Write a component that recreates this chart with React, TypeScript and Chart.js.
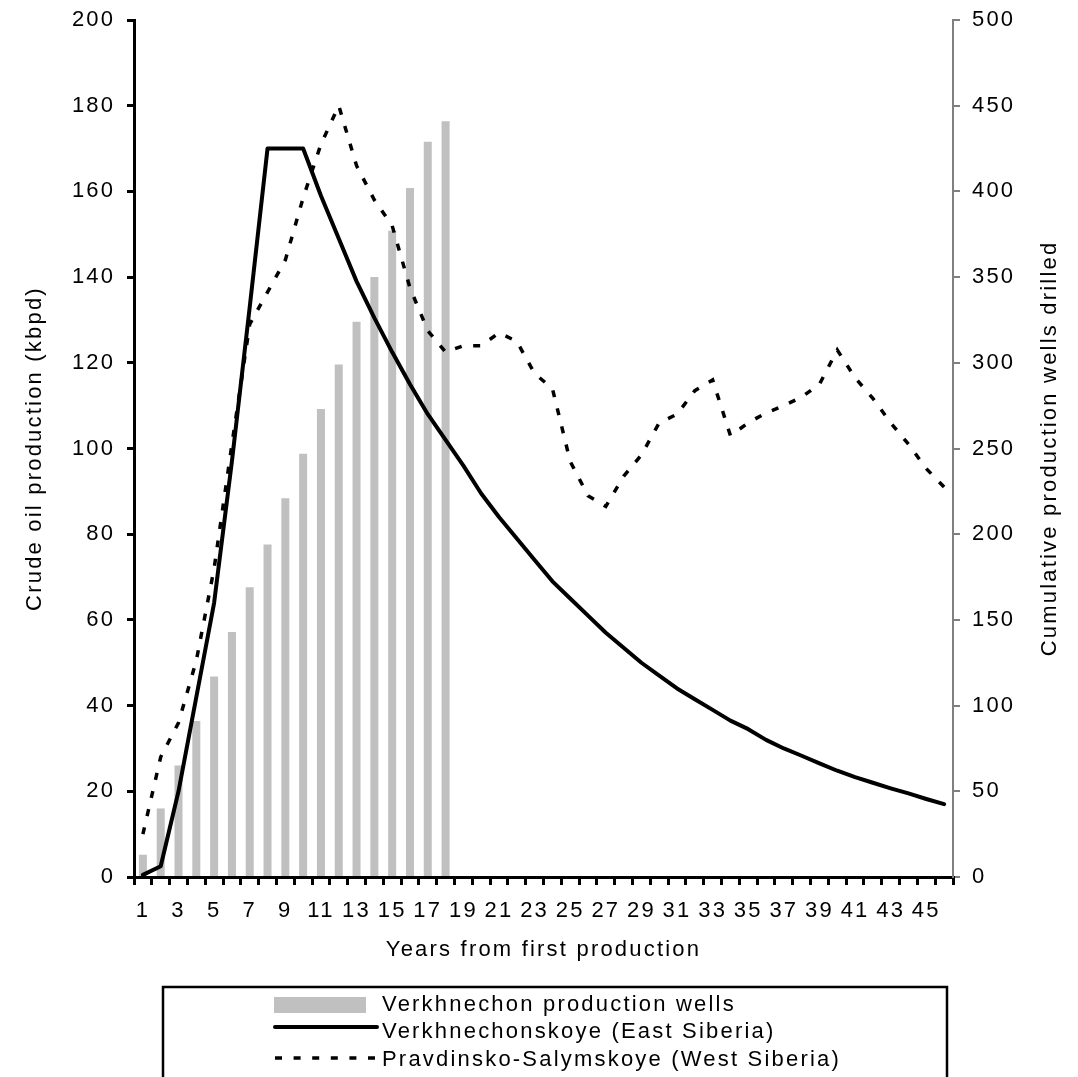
import React, { useEffect, useRef } from 'react';
import { Chart, registerables } from 'chart.js';

Chart.register(...registerables);

// ---- Data ----
const years = [
  '1', '2', '3', '4', '5', '6', '7', '8', '9', '10',
  '11', '12', '13', '14', '15', '16', '17', '18', '19', '20',
  '21', '22', '23', '24', '25', '26', '27', '28', '29', '30',
  '31', '32', '33', '34', '35', '36', '37', '38', '39', '40',
  '41', '42', '43', '44', '45', '46',
];

// Cumulative production wells drilled (right axis), years 1-18
const verkhnechonWells = [
  13, 40, 65, 91, 117, 143, 169, 194, 221, 247,
  273, 299, 324, 350, 377, 402, 429, 441,
];

// Crude oil production (kbpd), left axis
const verkhnechonskoye = [
  0.5, 2.5, 20, 42, 64, 97, 133, 170, 170, 170,
  159, 149, 139, 130.5, 122.5, 115, 108, 102, 96, 89.5,
  84, 79, 74, 69, 65, 61, 57, 53.5, 50, 47,
  44, 41.5, 39, 36.5, 34.5, 32, 30, 28.3, 26.5, 24.8,
  23.3, 22, 20.7, 19.5, 18.2, 17,
];

const pravdinsko = [
  10, 28, 36, 50.5, 72, 101, 129, 136.5, 144, 158.5,
  171, 180, 166, 158, 152, 137.5, 127.5, 122.5, 124, 124,
  127, 125, 117.5, 114, 97, 89, 86.5, 93.5, 98.5, 106,
  108, 113.5, 116, 103, 106, 108.3, 110, 112, 115, 123,
  116.5, 111.7, 106, 101, 95.3, 91,
];

const seriesLabels = [
  'Verkhnechon production wells',
  'Verkhnechonskoye (East Siberia)',
  'Pravdinsko-Salymskoye (West Siberia)',
];

const xTitle = 'Years from first production';
const yLeftTitle = 'Crude oil production (kbpd)';
const yRightTitle = 'Cumulative production wells drilled';

// ---- Styles ----
const FONT_FAMILY = '"Liberation Sans", Arial, Helvetica, sans-serif';
const FONT_SIZE = 22;
const LS = '2.2px';
const BAR_COLOR = '#C0C0C0';
const GRAY = '#808080';

const spacingPlugin = {
  id: 'letterSpacing',
  beforeUpdate(chart: any) {
    (chart.ctx as any).letterSpacing = LS;
  },
  beforeDraw(chart: any) {
    (chart.ctx as any).letterSpacing = LS;
  },
};

const customPlugin = {
  id: 'customDecor',
  afterDraw(chart: any) {
    const ctx = chart.ctx as CanvasRenderingContext2D;
    const area = chart.chartArea;
    ctx.save();
    (ctx as any).letterSpacing = LS;
    ctx.font = `${FONT_SIZE}px ${FONT_FAMILY}`;
    ctx.fillStyle = '#000';

    // Right axis title (reads bottom-to-top)
    ctx.save();
    ctx.translate(1050, (area.top + area.bottom) / 2);
    ctx.rotate(-Math.PI / 2);
    ctx.textAlign = 'center';
    ctx.textBaseline = 'middle';
    ctx.fillText(yRightTitle, 0, 0);
    ctx.restore();

    // Legend box
    ctx.strokeStyle = '#000';
    ctx.lineWidth = 2.5;
    ctx.strokeRect(163, 987, 947 - 163, 140);

    // Bar swatch
    ctx.fillStyle = BAR_COLOR;
    ctx.fillRect(274, 997, 92, 16);

    // Solid line swatch
    ctx.beginPath();
    ctx.strokeStyle = '#000';
    ctx.lineWidth = 4;
    ctx.lineCap = 'round';
    ctx.moveTo(275, 1027);
    ctx.lineTo(377, 1027);
    ctx.stroke();

    // Dotted swatch
    ctx.beginPath();
    ctx.setLineDash([7, 11.6]);
    ctx.lineCap = 'butt';
    ctx.lineWidth = 3.5;
    ctx.moveTo(275, 1058);
    ctx.lineTo(380, 1058);
    ctx.stroke();
    ctx.setLineDash([]);

    // Legend text
    ctx.fillStyle = '#000';
    ctx.textAlign = 'left';
    ctx.textBaseline = 'middle';
    ctx.fillText(seriesLabels[0], 382, 1005);
    ctx.fillText(seriesLabels[1], 382, 1032);
    ctx.fillText(seriesLabels[2], 382, 1059.5);
    ctx.restore();
  },
};

export default function App() {
  const canvasRef = useRef<HTMLCanvasElement | null>(null);

  useEffect(() => {
    if (!canvasRef.current) return;
    Chart.defaults.font.family = FONT_FAMILY;
    Chart.defaults.font.size = FONT_SIZE;
    Chart.defaults.color = '#000';

    const barData = years.map((_, i) => (i < verkhnechonWells.length ? verkhnechonWells[i] : null));

    const chart = new Chart(canvasRef.current, {
      type: 'bar',
      data: {
        labels: years,
        datasets: [
          {
            type: 'line',
            label: seriesLabels[1],
            data: verkhnechonskoye,
            yAxisID: 'y',
            borderColor: '#000',
            borderWidth: 4,
            pointRadius: 0,
            tension: 0,
            borderCapStyle: 'round',
            borderJoinStyle: 'round',
            fill: false,
            order: 1,
          } as any,
          {
            type: 'line',
            label: seriesLabels[2],
            data: pravdinsko,
            yAxisID: 'y',
            borderColor: '#000',
            borderWidth: 3.5,
            borderDash: [7, 11.6],
            pointRadius: 0,
            tension: 0,
            fill: false,
            order: 2,
          } as any,
          {
            type: 'bar',
            label: seriesLabels[0],
            data: barData,
            yAxisID: 'y1',
            backgroundColor: BAR_COLOR,
            borderWidth: 0,
            categoryPercentage: 1,
            barPercentage: 0.45,
            order: 3,
          } as any,
        ],
      },
      options: {
        responsive: false,
        animation: false,
        devicePixelRatio: 1,
        layout: { padding: { top: 20, left: 0, right: 0, bottom: 0 } },
        plugins: {
          legend: { display: false },
          tooltip: { enabled: false },
        },
        scales: {
          x: {
            type: 'category',
            offset: true,
            grid: {
              offset: true,
              drawOnChartArea: false,
              drawTicks: true,
              tickLength: 8,
              tickWidth: 3,
              tickColor: '#000',
              lineWidth: 3,
              color: '#000',
            },
            border: { display: true, color: '#000', width: 3 },
            ticks: {
              autoSkip: false,
              maxRotation: 0,
              minRotation: 0,
              padding: 12.8,
              callback: (_v: any, i: number) => (i % 2 === 0 ? years[i] : ''),
            },
            title: {
              display: true,
              text: xTitle,
              padding: { top: 0, bottom: 113.8 },
            },
            afterFit: (scale: any) => {
              scale.height = 200;
              scale.paddingLeft = 0;
              scale.paddingRight = 0;
            },
          },
          y: {
            position: 'left',
            min: 0,
            max: 200,
            ticks: { stepSize: 20, padding: 11.8 },
            grid: {
              drawOnChartArea: false,
              drawTicks: true,
              tickLength: 7,
              tickWidth: 3,
              tickColor: '#000',
              color: '#000',
              lineWidth: 3,
            },
            border: { display: true, color: '#000', width: 3 },
            title: {
              display: true,
              text: yLeftTitle,
              padding: { top: 21.8, bottom: 0 },
            },
            afterFit: (scale: any) => {
              scale.width = 134;
              scale.paddingTop = 0;
              scale.paddingBottom = 0;
            },
          },
          y1: {
            position: 'right',
            min: 0,
            max: 500,
            ticks: { stepSize: 50, padding: 12 },
            grid: {
              drawOnChartArea: false,
              drawTicks: true,
              tickLength: 7,
              tickWidth: 2,
              tickColor: GRAY,
              color: GRAY,
              lineWidth: 2,
            },
            border: { display: true, color: GRAY, width: 2 },
            title: { display: false },
            afterFit: (scale: any) => {
              scale.width = 125;
              scale.paddingTop = 0;
              scale.paddingBottom = 0;
            },
          },
        },
      } as any,
      plugins: [spacingPlugin, customPlugin],
    });

    return () => {
      chart.destroy();
    };
  }, []);

  return (
    <div style={{ position: 'absolute', left: 0, top: 0, width: 1078, height: 1077, background: '#fff' }}>
      <canvas ref={canvasRef} width={1078} height={1077} style={{ display: 'block' }} />
    </div>
  );
}
